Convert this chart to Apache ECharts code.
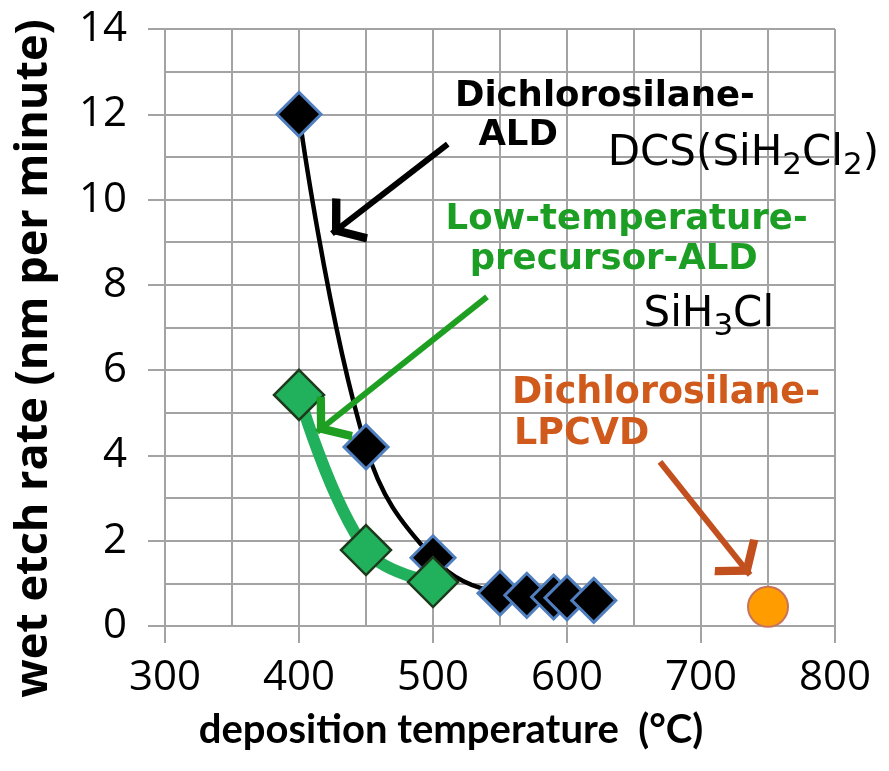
<!DOCTYPE html>
<html>
<head>
<meta charset="utf-8">
<title>Wet etch rate vs deposition temperature</title>
<script src="https://cdn.jsdelivr.net/npm/echarts@6/dist/echarts.min.js"></script>
<style>
  html, body { margin: 0; padding: 0; background: #ffffff; }
  #chart { width: 889px; height: 771px; }
</style>
</head>
<body>
<div id="chart"></div>
<script>
// Axis ticks
const xTicks = [300, 400, 500, 600, 700, 800];
const yTicks = [0, 2, 4, 6, 8, 10, 12, 14];

// Dichlorosilane ALD (DCS, SiH2Cl2)
const dcsTemps = [400, 450, 500, 550, 570, 590, 600, 620];
const dcsRates = [12.0, 4.2, 1.6, 0.77, 0.72, 0.68, 0.66, 0.6];

// Low-temperature precursor ALD (SiH3Cl)
const lowTemps = [400, 450, 500];
const lowRates = [5.42, 1.78, 1.03];

// Dichlorosilane LPCVD
const lpcvdTemps = [750];
const lpcvdRates = [0.45];

const pairs = (xs, ys) => xs.map((x, i) => [x, ys[i]]);

const GRID = '#a3a3a3';
const BLACK = '#000000';
const GREEN_TEXT = '#1c9e24';
const GREEN_LINE = '#21b05b';
const ORANGE_TEXT = '#cf5a1c';
const ORANGE_ARROW = '#c2501e';

// open chevron arrow head; tip sits at the symbol centre
const CHEVRON = 'path://M50,0 L50.3,0 L50,0.3 Z M50,50 L100,89 L90,100 L50,69 L10,100 L0,89 Z';

function arrow(from, to, color) {
  return {
    silent: true,
    symbol: ['none', CHEVRON],
    symbolSize: 56,
    label: { show: false },
    emphasis: { disabled: true },
    itemStyle: { color: color },
    lineStyle: { color: color, width: 6, type: 'solid' },
    data: [[{ coord: from }, { coord: to }]]
  };
}

function note(coord, text, style) {
  return {
    coord: coord,
    symbol: 'circle',
    symbolSize: 1,
    itemStyle: { color: 'rgba(0,0,0,0)' },
    label: Object.assign({
      show: true,
      position: 'right',
      distance: 0,
      formatter: text
    }, style)
  };
}

const boldNote = (color, size) => ({
  fontFamily: 'DejaVu Sans',
  fontWeight: 'bold',
  fontSize: size,
  color: color
});

const formulaStyle = {
  color: '#000',
  rich: {
    n: { fontFamily: 'DejaVu Sans', fontSize: 42, lineHeight: 50, color: '#000' },
    s: { fontFamily: 'DejaVu Sans', fontSize: 31, lineHeight: 31, padding: [24, 0, 0, 0], color: '#000' }
  }
};

const chart = echarts.init(document.getElementById('chart'), null, { renderer: 'canvas' });

chart.setOption({
  animation: false,
  backgroundColor: '#ffffff',
  grid: { left: 165, right: 54, top: 29, bottom: 145 },
  xAxis: {
    type: 'value',
    min: xTicks[0],
    max: xTicks[xTicks.length - 1],
    interval: xTicks[1] - xTicks[0],
    name: 'deposition temperature  (°C)',
    nameLocation: 'middle',
    nameGap: 84,
    nameTextStyle: {
      fontFamily: 'Lato', fontWeight: 'bold', fontSize: 40, color: '#000',
      padding: [0, 98, 0, 0]
    },
    axisLine: { lineStyle: { color: GRID, width: 2 } },
    axisTick: { show: true, length: 17, lineStyle: { color: GRID, width: 2 } },
    minorTick: { show: false, splitNumber: 2 },
    splitLine: { show: true, lineStyle: { color: GRID, width: 2 } },
    minorSplitLine: { show: true, lineStyle: { color: GRID, width: 2 } },
    axisLabel: { fontFamily: 'Open Sans', fontSize: 42, color: '#000', margin: 31 }
  },
  yAxis: {
    type: 'value',
    min: yTicks[0],
    max: yTicks[yTicks.length - 1],
    interval: yTicks[1] - yTicks[0],
    name: 'wet etch rate (nm per minute)',
    nameLocation: 'middle',
    nameGap: 108,
    nameTextStyle: {
      fontFamily: 'Open Sans', fontWeight: 'bold', fontSize: 45, color: '#000',
      padding: [0, 62, 0, 0]
    },
    axisLine: { show: true, lineStyle: { color: GRID, width: 2 } },
    axisTick: { show: true, length: 17, lineStyle: { color: GRID, width: 2 } },
    minorTick: { show: false, splitNumber: 2 },
    splitLine: { show: true, lineStyle: { color: GRID, width: 2 } },
    minorSplitLine: { show: true, lineStyle: { color: GRID, width: 2 } },
    axisLabel: { fontFamily: 'Open Sans', fontSize: 42, color: '#000', margin: 38 }
  },
  series: [
    {
      name: 'Dichlorosilane-ALD',
      type: 'line',
      data: pairs(dcsTemps, dcsRates),
      smooth: 0.4,
      symbol: 'diamond',
      symbolSize: 44,
      z: 3,
      lineStyle: { color: BLACK, width: 4.5 },
      itemStyle: { color: BLACK, borderColor: '#4f7fbf', borderWidth: 3 },
      markLine: arrow([511, 11.3], [424.6, 9.2], BLACK),
      markPoint: {
        silent: true,
        data: [
          note([516, 12.41], 'Dichlorosilane-', boldNote(BLACK, 35.5)),
          note([533.5, 11.49], 'ALD', boldNote(BLACK, 35.5)),
          note([630, 11.07], '{n|DCS(SiH}{s|2}{n|Cl}{s|2}{n|)}', formulaStyle)
        ]
      }
    },
    {
      name: 'Low-temperature-precursor-ALD',
      type: 'line',
      data: pairs(lowTemps, lowRates),
      smooth: 0.4,
      symbol: 'diamond',
      symbolSize: 50,
      z: 4,
      lineStyle: { color: GREEN_LINE, width: 12 },
      itemStyle: { color: GREEN_LINE, borderColor: '#1d3a1d', borderWidth: 2.5 },
      markLine: arrow([540.3, 7.72], [413.4, 4.55], '#1f9f22'),
      markPoint: {
        silent: true,
        data: [
          note([509, 9.52], 'Low-temperature-', boldNote(GREEN_TEXT, 35.5)),
          note([527, 8.58], 'precursor-ALD', boldNote(GREEN_TEXT, 35.5)),
          note([656.7, 7.29], '{n|SiH}{s|3}{n|Cl}', formulaStyle)
        ]
      }
    },
    {
      name: 'Dichlorosilane-LPCVD',
      type: 'scatter',
      data: pairs(lpcvdTemps, lpcvdRates),
      symbol: 'circle',
      symbolSize: 40,
      z: 4,
      itemStyle: { color: '#ff9c00', borderColor: '#c8745c', borderWidth: 2, opacity: 1 },
      markLine: arrow([669.4, 3.85], [736.6, 1.2], ORANGE_ARROW),
      markPoint: {
        silent: true,
        data: [
          note([558.5, 5.46], 'Dichlorosilane-', boldNote(ORANGE_TEXT, 36.5)),
          note([560, 4.48], 'LPCVD', boldNote(ORANGE_TEXT, 36.5))
        ]
      }
    }
  ]
});
</script>
</body>
</html>
